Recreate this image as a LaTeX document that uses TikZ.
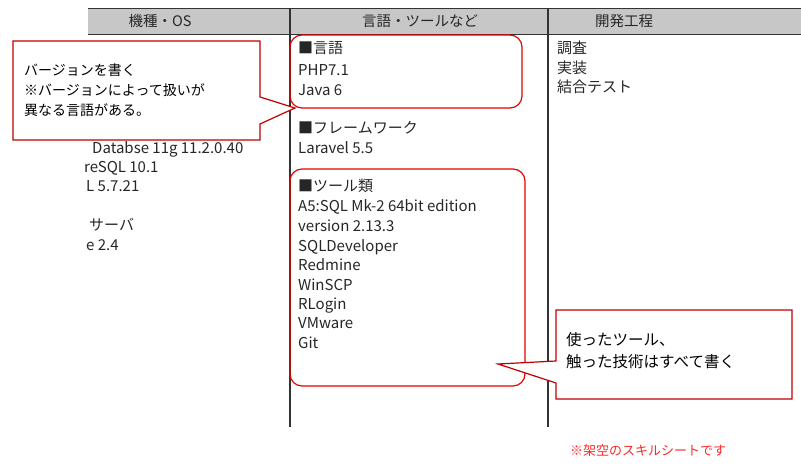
\documentclass[tikz,border=0pt]{standalone}
\usepackage{fontspec}
\setmainfont{Noto Sans CJK JP}
\begin{document}
\begin{tikzpicture}[x=1pt,y=-1pt,
  txt/.style={anchor=base west,inner sep=0pt,yshift=-5.5pt,font=\fontsize{15}{18}\selectfont,text=black!85},
  hdr/.style={inner sep=0pt,font=\fontsize{14.5}{16}\selectfont,text=black!85},
  call/.style={draw=red!75!black,line width=1.2pt,fill=white},
  rbox/.style={draw=red!90!black,line width=1.2pt,rounded corners=12pt},
  ctxt/.style={anchor=west,inner sep=0pt,font=\fontsize{14}{20}\selectfont,align=left}]
\useasboundingbox (0,0) rectangle (801,471);
% table
\fill[black!22] (88,8) rectangle (801,34);
\draw[line width=1pt,black!80] (88,8) -- (801,8);
\draw[line width=1pt,black!80] (88,34) -- (801,34);
\draw[line width=1.2pt,black!80] (290,8) -- (290,427);
\draw[line width=1.2pt,black!80] (548,8) -- (548,427);
\node[hdr] (h1) at (160,21) {機種・OS};
\node[hdr] (h2) at (420,21) {言語・ツールなど};
\node[hdr] (h3) at (624,21) {開発工程};
% left column partial
\node[txt] (l1) at (92,148) {Databse 11g 11.2.0.40};
\node[txt] (l2) at (84,167) {reSQL 10.1};
\node[txt] (l3) at (86,186) {L 5.7.21};
\node[txt] (l4) at (89,225) {サーバ};
\node[txt] (l5) at (86,245) {e 2.4};
% middle column
\node[txt] (m1) at (298,48) {■言語};
\node[txt] (m2) at (298,70) {PHP7.1};
\node[txt] (m3) at (298,90) {Java 6};
\node[txt] (m4) at (298,128) {■フレームワーク};
\node[txt] (m5) at (298,148) {Laravel 5.5};
\node[txt] (t0) at (298,186) {■ツール類};
\node[txt] (t1) at (298,206) {A5:SQL Mk-2 64bit edition};
\node[txt] (t2) at (298,226) {version 2.13.3};
\node[txt] (t3) at (298,246) {SQLDeveloper};
\node[txt] (t4) at (298,265) {Redmine};
\node[txt] (t5) at (298,285) {WinSCP};
\node[txt] (t6) at (298,304) {RLogin};
\node[txt] (t7) at (298,323) {VMware};
\node[txt] (t8) at (298,343) {Git};
% right column
\node[txt] (r1) at (557,48) {調査};
\node[txt] (r2) at (557,68) {実装};
\node[txt] (r3) at (557,87) {結合テスト};
% rounded boxes
\draw[rbox] (290,35) rectangle (522,108);
\draw[rbox] (290,169) rectangle (525,386);
% callout 1
\draw[call] (13,41) -- (260,41) -- (260,97) -- (295,108) -- (260,124) -- (260,140) -- (13,140) -- cycle;
\node[ctxt] (c1) at (24,90) {バージョンを書く\\※バージョンによって扱いが\\異なる言語がある。};
% callout 2
\draw[call] (556,310) -- (792,310) -- (792,399) -- (556,399) -- (556,383) -- (498,364) -- (556,361) -- cycle;
\node[ctxt,font=\fontsize{15.5}{22}\selectfont] (c2) at (566,351) {使ったツール、\\触った技術はすべて書く};
% footer
\node[inner sep=0pt,font=\fontsize{13}{14}\selectfont,text=red!85] (f) at (648,451) {※架空のスキルシートです};
\end{tikzpicture}
\end{document}
